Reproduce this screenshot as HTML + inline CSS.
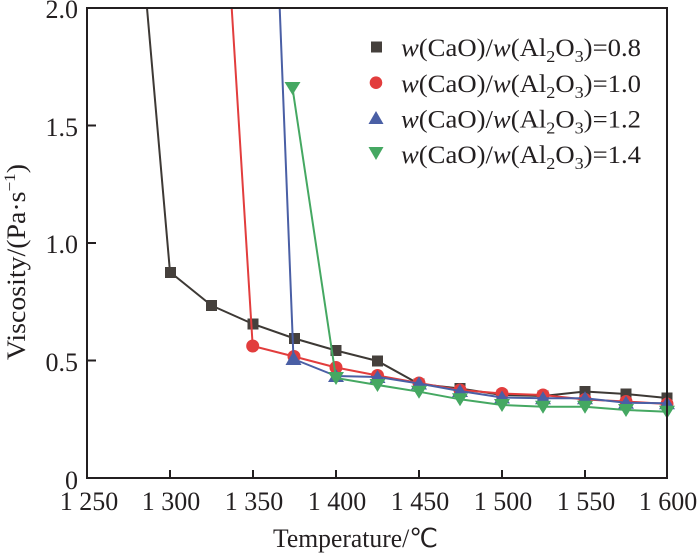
<!DOCTYPE html>
<html><head><meta charset="utf-8"><style>
html,body{margin:0;padding:0;background:#fff;}
svg{display:block;}
svg text, svg tspan{font-family:"Liberation Serif","Times New Roman",serif;fill:#231f20;}
</style></head><body>
<svg width="700" height="553" viewBox="0 0 700 553" xmlns="http://www.w3.org/2000/svg" font-family="Liberation Serif, serif">
<defs><clipPath id="c"><rect x="87" y="8" width="580" height="470"/></clipPath></defs>
<rect width="700" height="553" fill="#fff"/>
<g clip-path="url(#c)" fill="none" stroke-width="2" stroke-linejoin="round">
<polyline stroke="#3d3935" points="147,8 170,272 211.5,305.5 253,324 294.5,338.5 336,350.5 377.5,361 419,384 460,388.5 502,395 543,396 585,391.5 626,394 667,398"/>
</g>
<g fill="#45403c">
<rect x="165" y="267" width="11" height="11"/><rect x="206" y="300" width="11" height="11"/><rect x="247.5" y="318.5" width="11" height="11"/><rect x="289" y="333" width="11" height="11"/><rect x="330.5" y="345" width="11" height="11"/><rect x="372" y="355.5" width="11" height="11"/><rect x="413.5" y="378.5" width="11" height="11"/><rect x="454.5" y="383" width="11" height="11"/><rect x="496.5" y="389.5" width="11" height="11"/><rect x="537.5" y="390.5" width="11" height="11"/><rect x="579.5" y="386" width="11" height="11"/><rect x="620.5" y="388.5" width="11" height="11"/><rect x="661.5" y="392.5" width="11" height="11"/>
</g>
<g clip-path="url(#c)" fill="none" stroke-width="2" stroke-linejoin="round">
<polyline stroke="#e23d3d" points="231.7,8 252.7,346 294,356.5 336,367.5 377.5,375.5 419,383 460,390 502,393.5 543,395 585,399.5 626,401.5 667,404"/>
</g>
<g fill="#e23d3d">
<circle cx="252.7" cy="346" r="6.5"/><circle cx="294" cy="356.5" r="6.5"/><circle cx="336" cy="367.5" r="6.5"/><circle cx="377.5" cy="375.5" r="6.5"/><circle cx="419" cy="383" r="6.5"/><circle cx="460" cy="390" r="6.5"/><circle cx="502" cy="393.5" r="6.5"/><circle cx="543" cy="395" r="6.5"/><circle cx="585" cy="399.5" r="6.5"/><circle cx="626" cy="401.5" r="6.5"/><circle cx="667" cy="404" r="6.5"/>
</g>
<g clip-path="url(#c)" fill="none" stroke-width="2" stroke-linejoin="round">
<polyline stroke="#4a5fa5" points="279.7,8 293.5,359 336,376 377.5,377 419,383.5 460,391 502,397.5 543,398.3 585,398.3 626,402.7 667,403.3"/>
</g>
<g fill="#4a5fa5">
<polygon points="293.5,351 285.5,365 301.5,365"/><polygon points="336,369 328,382 344,382"/><polygon points="377.5,370 369.5,383 385.5,383"/><polygon points="419,376.5 411,389.5 427,389.5"/><polygon points="460,384 452,397 468,397"/><polygon points="502,390.5 494,403.5 510,403.5"/><polygon points="543,391.3 535,404.3 551,404.3"/><polygon points="585,391.3 577,404.3 593,404.3"/><polygon points="626,395.7 618,408.7 634,408.7"/><polygon points="667,396.3 659,409.3 675,409.3"/>
</g>
<g clip-path="url(#c)" fill="none" stroke-width="2" stroke-linejoin="round">
<polyline stroke="#45a862" points="292.5,88 336,378 377.5,385 419,391.7 460,399.3 502,405 543,406.7 585,406.7 626,410 667,411.7"/>
</g>
<g fill="#45a862">
<polygon points="284.5,82 300.5,82 292.5,95"/><polygon points="328,372 344,372 336,385"/><polygon points="369.5,379 385.5,379 377.5,392"/><polygon points="411,385.7 427,385.7 419,398.7"/><polygon points="452,393.3 468,393.3 460,406.3"/><polygon points="494,399 510,399 502,412"/><polygon points="535,400.7 551,400.7 543,413.7"/><polygon points="577,400.7 593,400.7 585,413.7"/><polygon points="618,404 634,404 626,417"/><polygon points="659,405.7 675,405.7 667,418.7"/>
</g>
<rect x="87" y="8" width="580" height="470" fill="none" stroke="#231f20" stroke-width="2"/>
<g stroke="#231f20" stroke-width="2">
<line x1="170" y1="478" x2="170" y2="470"/><line x1="253" y1="478" x2="253" y2="470"/><line x1="336" y1="478" x2="336" y2="470"/><line x1="419" y1="478" x2="419" y2="470"/><line x1="502" y1="478" x2="502" y2="470"/><line x1="585" y1="478" x2="585" y2="470"/>
<line x1="87" y1="360.5" x2="96" y2="360.5"/><line x1="87" y1="243" x2="96" y2="243"/><line x1="87" y1="125.5" x2="96" y2="125.5"/>
</g>
<g font-size="26" text-anchor="end" font-family="Liberation Serif, serif">
<text x="78" y="18">2.0</text><text x="78" y="136">1.5</text><text x="78" y="253">1.0</text><text x="78" y="371">0.5</text><text x="78" y="489">0</text>
</g>
<g font-size="26" text-anchor="middle" font-family="Liberation Serif, serif">
<text x="89" y="510">1 250</text><text x="171" y="510">1 300</text><text x="254" y="510">1 350</text><text x="337" y="510">1 400</text><text x="420" y="510">1 450</text><text x="503" y="510">1 500</text><text x="586" y="510">1 550</text><text x="668" y="510">1 600</text>
</g>
<text x="273" y="547" font-size="26" font-family="Liberation Serif, serif" textLength="165" lengthAdjust="spacingAndGlyphs">Temperature/℃</text>
<text transform="translate(25,262) rotate(-90)" font-size="26" font-family="Liberation Serif, serif" text-anchor="middle" textLength="196" lengthAdjust="spacingAndGlyphs">Viscosity/(Pa·s<tspan font-size="16" dy="-10">−1</tspan><tspan dy="10">)</tspan></text>
<rect x="371" y="41.5" width="11" height="11" fill="#45403c"/>
<circle cx="376" cy="82.7" r="6.3" fill="#e23d3d"/>
<polygon points="376,111 368.5,124 383.5,124" fill="#4a5fa5"/>
<polygon points="368.5,147 383.5,147 376,160" fill="#45a862"/>
<g font-size="25" font-family="Liberation Serif, serif">
<text x="401" y="56" textLength="240" lengthAdjust="spacingAndGlyphs"><tspan font-style="italic">w</tspan>(CaO)/<tspan font-style="italic">w</tspan>(Al<tspan font-size="17" dy="6">2</tspan><tspan dy="-6">O</tspan><tspan font-size="17" dy="6">3</tspan><tspan dy="-6">)=0.8</tspan></text>
<text x="401" y="92" textLength="240" lengthAdjust="spacingAndGlyphs"><tspan font-style="italic">w</tspan>(CaO)/<tspan font-style="italic">w</tspan>(Al<tspan font-size="17" dy="6">2</tspan><tspan dy="-6">O</tspan><tspan font-size="17" dy="6">3</tspan><tspan dy="-6">)=1.0</tspan></text>
<text x="401" y="127.5" textLength="240" lengthAdjust="spacingAndGlyphs"><tspan font-style="italic">w</tspan>(CaO)/<tspan font-style="italic">w</tspan>(Al<tspan font-size="17" dy="6">2</tspan><tspan dy="-6">O</tspan><tspan font-size="17" dy="6">3</tspan><tspan dy="-6">)=1.2</tspan></text>
<text x="401" y="163" textLength="240" lengthAdjust="spacingAndGlyphs"><tspan font-style="italic">w</tspan>(CaO)/<tspan font-style="italic">w</tspan>(Al<tspan font-size="17" dy="6">2</tspan><tspan dy="-6">O</tspan><tspan font-size="17" dy="6">3</tspan><tspan dy="-6">)=1.4</tspan></text>
</g>
</svg>
</body></html>
